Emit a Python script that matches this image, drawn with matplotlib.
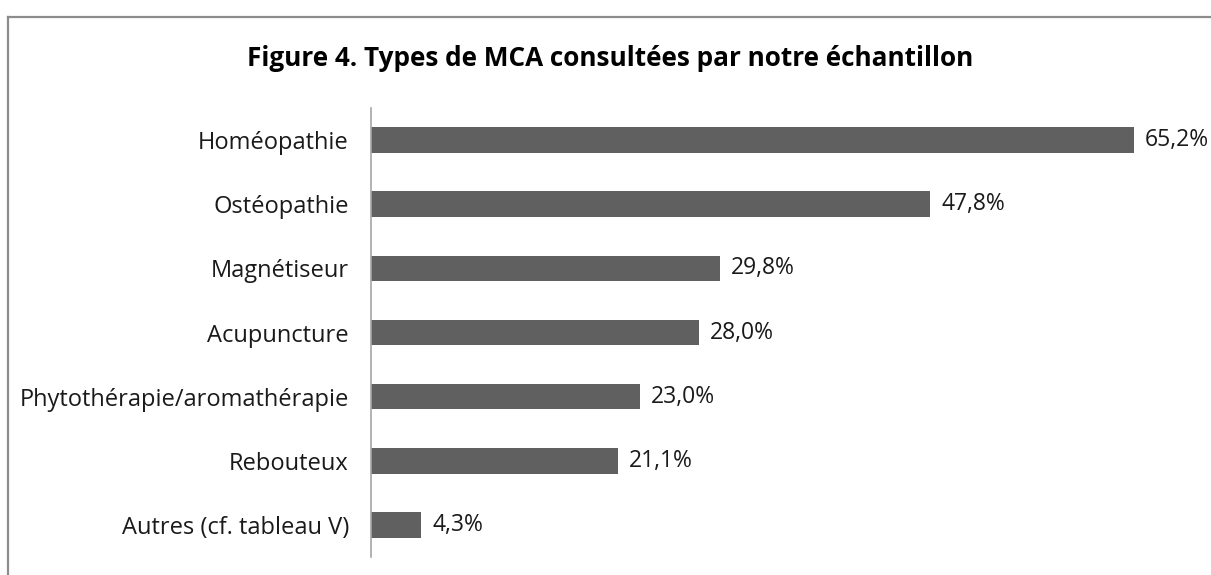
import matplotlib.pyplot as plt
from matplotlib.lines import Line2D

plt.rcParams['font.family'] = ['Open Sans', 'DejaVu Sans']

# Données
categories = [
    'Homéopathie',
    'Ostéopathie',
    'Magnétiseur',
    'Acupuncture',
    'Phytothérapie/aromathérapie',
    'Rebouteux',
    'Autres (cf. tableau V)',
]
values = [65.2, 47.8, 29.8, 28.0, 23.0, 21.1, 4.3]
value_labels = ['65,2%', '47,8%', '29,8%', '28,0%', '23,0%', '21,1%', '4,3%']
title = 'Figure 4. Types de MCA consultées par notre échantillon'

W, H = 1211, 575
fig = plt.figure(figsize=(W / 100, H / 100), dpi=100)

# cadre gris (gauche et haut seulement, le reste est rogné)
fig.add_artist(Line2D([7.5 / W, 7.5 / W], [0, 1 - 16.5 / H], color='#8c8c8c', lw=1.6))
fig.add_artist(Line2D([7.5 / W, 1], [1 - 16.5 / H, 1 - 16.5 / H], color='#8c8c8c', lw=1.6))

ax_left, ax_top, ax_bottom = 371, 108, 557
ax = fig.add_axes([ax_left / W, (H - ax_bottom) / H, (W - ax_left) / W, (ax_bottom - ax_top) / H])

pos = list(range(len(categories)))
ax.barh(pos, values, height=0.4, color='#606060')
px_per_unit = (1134 - ax_left) / 65.2
ax.set_xlim(0, (W - ax_left) / px_per_unit)
ax.set_ylim(len(categories) - 0.5, -0.5)

for p, v, lab in zip(pos, values, value_labels):
    ax.annotate(lab, (v, p), xytext=(8, 0), textcoords='offset points',
                va='center', ha='left', fontsize=16.5, color='#1a1a1a')

ax.set_yticks(pos)
ax.set_yticklabels(categories, fontsize=17, color='#1a1a1a')
ax.tick_params(axis='y', length=0, pad=16)
ax.set_xticks([])
for s in ['top', 'right', 'bottom']:
    ax.spines[s].set_visible(False)
ax.spines['left'].set_color('#a6a6a6')
ax.spines['left'].set_linewidth(1.2)

fig.text(610 / W, 1 - 58 / H, title, ha='center', va='center',
         fontsize=18.8, fontweight='bold', color='#000000')

fig.savefig('out.png', dpi=100)
